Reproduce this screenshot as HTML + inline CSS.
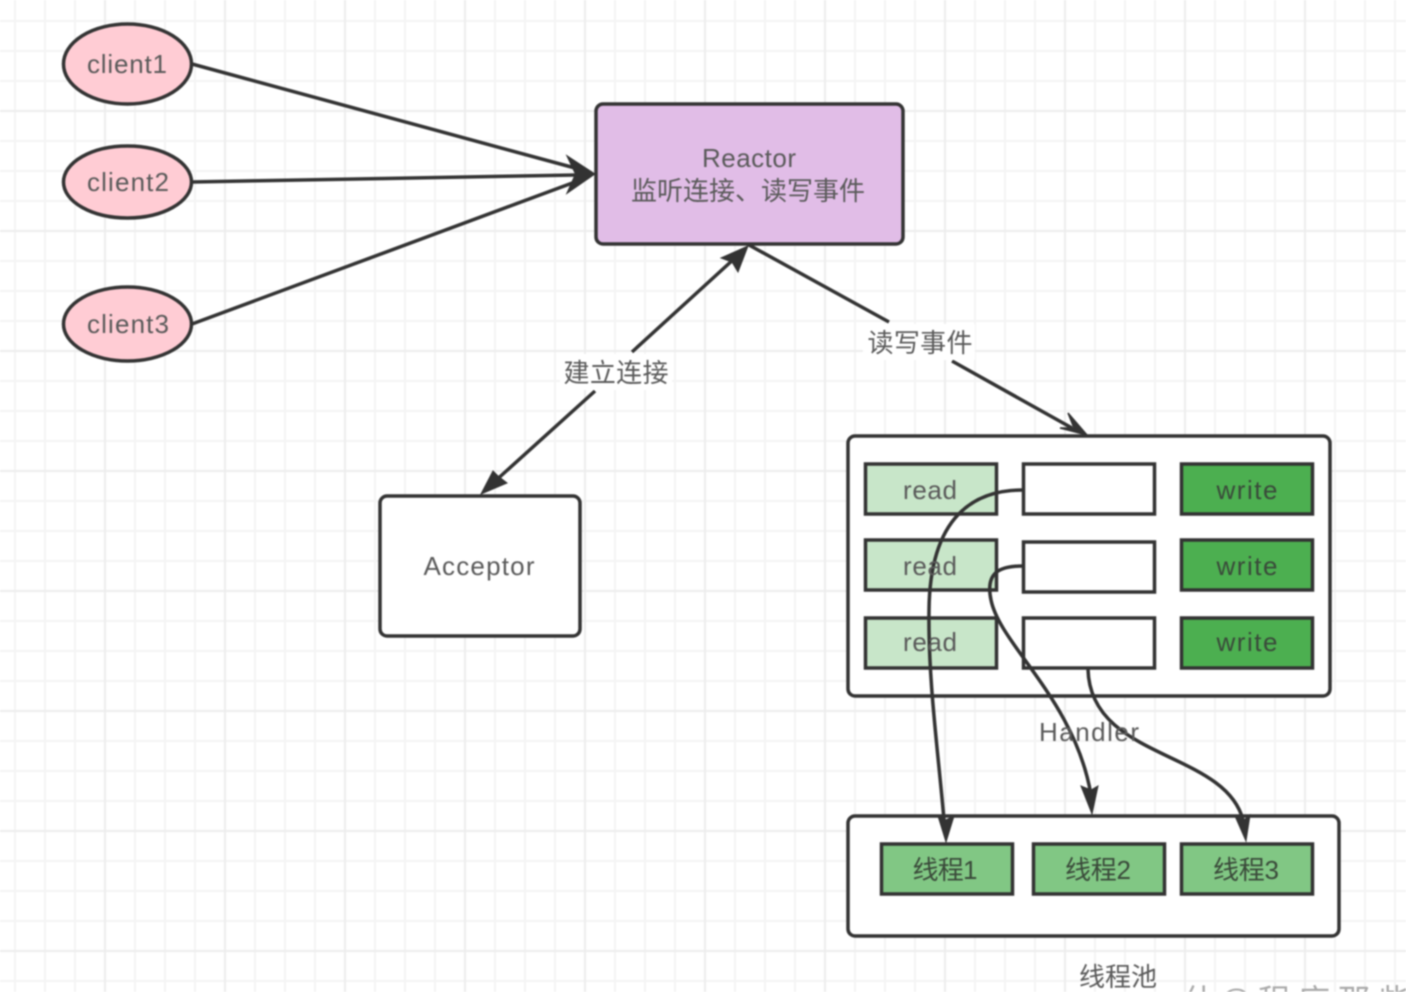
<!DOCTYPE html>
<html><head><meta charset="utf-8"><style>
html,body{margin:0;padding:0;background:#fff;width:1406px;height:992px;overflow:hidden}
svg{display:block;filter:blur(.7px)}
text{font-family:"Liberation Sans","Noto Sans CJK SC",sans-serif;font-size:26px;fill:#5a5a5a;text-anchor:middle}
.d{fill:#3a4a3a}
.w{fill:#aaa;font-size:32px;text-anchor:start}
</style></head><body>
<svg width="1406" height="992" viewBox="0 0 1406 992" xmlns="http://www.w3.org/2000/svg">
<defs>
<pattern id="g" x="14" y="20" width="30" height="30" patternUnits="userSpaceOnUse"><path d="M1 0V30M0 1H30" stroke="#f4f4f4" stroke-width="2" fill="none"/></pattern>
<pattern id="G" x="104" y="110" width="120" height="120" patternUnits="userSpaceOnUse"><path d="M1 0V120M0 1H120" stroke="#ededed" stroke-width="2" fill="none"/></pattern>
</defs>
<rect width="1406" height="992" fill="#fff"/>
<rect width="1406" height="992" fill="url(#g)"/>
<rect width="1406" height="992" fill="url(#G)"/>
<text class="w" x="1183" y="1012">什</text>
<text class="w" x="1219" y="1012">@</text>
<text class="w" x="1258" y="1012">程</text>
<text class="w" x="1298" y="1012">序</text>
<text class="w" x="1338" y="1012">那</text>
<text class="w" x="1378" y="1012">些</text>
<g stroke="#333" stroke-width="3.5">
<ellipse cx="127.500" cy="64" rx="64" ry="40" fill="#ffccd4"/>
<ellipse cx="127.500" cy="182" rx="64" ry="36" fill="#ffccd4"/>
<ellipse cx="127.500" cy="324" rx="64" ry="37" fill="#ffccd4"/>
<rect x="596" y="104" width="307" height="140" rx="7" fill="#e1bde7"/>
<rect x="380" y="496" width="200" height="140" rx="7" fill="#fff"/>
<rect x="848" y="436" width="482" height="260" rx="7" fill="#fff"/>
<rect x="848" y="816" width="491" height="120" rx="7" fill="#fff"/>
<g stroke-width="3.500">
<rect x="865.500" y="464" width="131" height="50" fill="#c8e6c9"/>
<rect x="865.500" y="540" width="131" height="50" fill="#c8e6c9"/>
<rect x="865.500" y="618" width="131" height="50" fill="#c8e6c9"/>
<rect x="1023.500" y="464" width="131" height="50" fill="#fff"/>
<rect x="1023.500" y="542" width="131" height="50" fill="#fff"/>
<rect x="1023.500" y="618" width="131" height="50" fill="#fff"/>
<rect x="1181.500" y="464" width="131" height="50" fill="#4caf50"/>
<rect x="1181.500" y="540" width="131" height="50" fill="#4caf50"/>
<rect x="1181.500" y="618" width="131" height="50" fill="#4caf50"/>
<rect x="881.500" y="844" width="131" height="50" fill="#81c784"/>
<rect x="1033.500" y="844" width="131" height="50" fill="#81c784"/>
<rect x="1181.500" y="844" width="131" height="50" fill="#81c784"/>
</g>
</g>
<g fill="none" stroke="#333" stroke-width="3.500">
<path d="M192 64L575 168"/>
<path d="M192 182L575 175"/>
<path d="M192 324L575 182"/>
<path d="M632 352L735 258"/>
<path d="M595 391L493 483"/>
<path d="M749 245L889 322"/>
<path d="M952 361L1072 428"/>
<path d="M1023 490C975 490 930 515 929 610C928 680 938 750 944 820"/>
<path d="M1023 566C1000 566 985 572 991 600C1000 645 1075 700 1091 795"/>
<path d="M1088 669C1090 760 1225 750 1243 820"/>
</g>
<g fill="#333">
<path d="M594 174L568 157L576 174L568 192Z" stroke="#333" stroke-width="2"/>
<path d="M748 246L738 272L732 262L721 258Z" stroke="#333"/>
<path d="M481 494L507 483L498 476L493 471Z" stroke="#333"/>
<path d="M1087 435L1060 428L1074 428L1068 413Z" stroke="#333" stroke-width="1.500"/>
<path d="M946 842L938 816L946 820L954 816Z" stroke="#333"/>
<path d="M1092 814L1081 786L1091 790L1098 786Z" stroke="#333"/>
<path d="M1246 841L1235 816L1244 820L1250 815Z" stroke="#333"/>
</g>
<rect x="863" y="324" width="112" height="36" fill="#fff"/>
<rect x="560" y="354" width="112" height="36" fill="#fff"/>
<g>
<text x="127" y="73" textLength="80">client1</text>
<text x="128" y="191" textLength="82">client2</text>
<text x="128" y="333" textLength="82">client3</text>
<text x="749" y="167" textLength="94">Reactor</text>
<text x="748" y="200" textLength="234">监听连接、读写事件</text>
<text x="616" y="382" textLength="105">建立连接</text>
<text x="920" y="352" textLength="105">读写事件</text>
<text x="479" y="575" textLength="111">Acceptor</text>
<text x="930" y="499" textLength="54">read</text>
<text x="930" y="575" textLength="54">read</text>
<text x="930" y="651" textLength="54">read</text>
<text x="1247" y="499" textLength="61" class="d">write</text>
<text x="1247" y="575" textLength="61" class="d">write</text>
<text x="1247" y="651" textLength="61" class="d">write</text>
<text x="1089" y="741" textLength="100">Handler</text>
<text x="945" y="879" textLength="65" class="d">线程1</text>
<text x="1098" y="879" textLength="66" class="d">线程2</text>
<text x="1246" y="879" textLength="66" class="d">线程3</text>
<text x="1118" y="986" textLength="78">线程池</text>
</g>
</svg>
</body></html>
